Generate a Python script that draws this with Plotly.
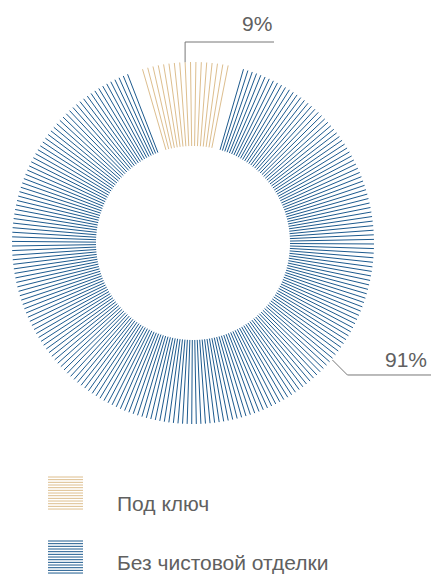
import numpy as np
import plotly.graph_objects as go

# Share of finishing types (percent)
categories = ["Под ключ", "Без чистовой отделки"]
shares = [9, 91]
share_labels = ["9%", "91%"]
colors = ["#ddbe8e", "#1d5a8e"]

W, H = 432, 575
CX, CY = 193, 243          # ring centre in page pixels
R_OUT, R_IN = 181, 97      # ring radii in pixels
START = -2.5 - shares[0] * 3.6 / 2   # first slice centred slightly left of top
PAD = 2.5                  # angular gap kept at each slice edge (deg)
STEPS = [1.7, 1.45]        # angular spacing of the strokes in each slice (deg)

FONT = "Liberation Sans, Arial, Helvetica, sans-serif"
TEXT_COLOR = "#606060"


def to_xy(r, deg):
    a = np.radians(deg)
    return r * np.sin(a), r * np.cos(a)


fig = go.Figure()

mid_angles = []
angle = START
for name, share, color, step in zip(categories, shares, colors, STEPS):
    span = share * 3.6
    a0, a1 = angle + PAD, angle + span - PAD
    n = int(round((a1 - a0) / step))
    xs, ys = [], []
    for t in np.linspace(a0, a1, n + 1):
        x0, y0 = to_xy(R_IN, t)
        x1, y1 = to_xy(R_OUT, t)
        xs += [x0, x1, None]
        ys += [y0, y1, None]
    fig.add_trace(go.Scatter(
        x=xs, y=ys, mode="lines", name=name,
        line=dict(color=color, width=1),
        hoverinfo="skip", showlegend=False,
    ))
    mid_angles.append(angle + span / 2)
    angle += span

# leader for the small slice: up from the ring, then right
lx, ly = to_xy(R_OUT, mid_angles[0])
fig.add_shape(type="path",
              path=f"M {lx},{ly} L {lx},{CY - 42} L {274 - CX},{CY - 42}",
              line=dict(color="#777777", width=1))
fig.add_annotation(x=274 - CX, y=CY - 37, text=share_labels[0], showarrow=False,
                   xanchor="right", yanchor="bottom",
                   font=dict(family=FONT, size=21, color=TEXT_COLOR))

# leader for the large slice: out to the lower right, then right
bx, by = to_xy(R_OUT + 1, 130)
fig.add_shape(type="path",
              path=f"M {bx},{by} L {bx + 15},{by - 15} L {W - 1 - CX},{by - 15}",
              line=dict(color="#777777", width=1))
fig.add_annotation(x=429 - CX, y=by - 13, text=share_labels[1], showarrow=False,
                   xanchor="right", yanchor="bottom",
                   font=dict(family=FONT, size=21, color=TEXT_COLOR))

# legend: striped swatches with captions
swatch_tops = [477, 541]
caption_mid = [503, 562]
for name, color, top, mid in zip(categories, colors, swatch_tops, caption_mid):
    for k in range(13):
        yy = CY - (top + k * 2.67)
        fig.add_shape(type="line", x0=48 - CX, x1=83 - CX, y0=yy, y1=yy,
                      line=dict(color=color, width=1))
    fig.add_annotation(x=115 - CX, y=CY - mid, text=name, showarrow=False,
                       xanchor="left", yanchor="middle",
                       font=dict(family=FONT, size=21, color=TEXT_COLOR))

fig.update_layout(
    width=W, height=H, autosize=False,
    margin=dict(l=0, r=0, t=0, b=0),
    paper_bgcolor="white", plot_bgcolor="white",
    xaxis=dict(range=[-CX, W - CX], visible=False, fixedrange=True),
    yaxis=dict(range=[CY - H, CY], visible=False, fixedrange=True),
    showlegend=False,
)

fig.write_html("out.html", config={"displayModeBar": False})
